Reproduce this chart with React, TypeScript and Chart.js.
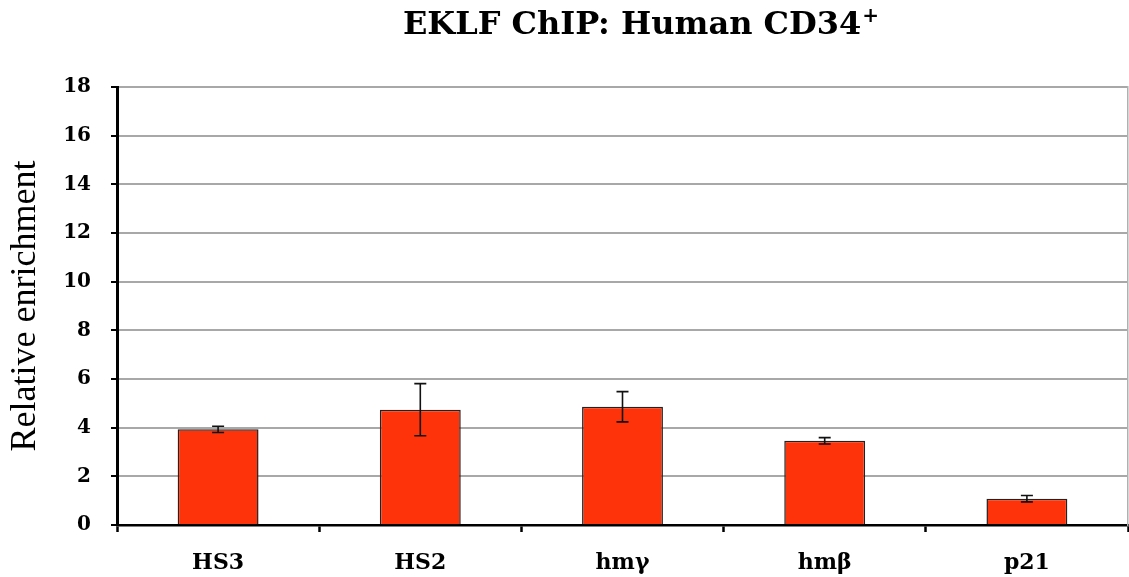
import React, { useEffect, useRef } from "react";
import { Chart, registerables } from "chart.js";

Chart.register(...registerables);

const categories = ["HS3", "HS2", "hmγ", "hmβ", "p21"];
const values = [3.93, 4.74, 4.86, 3.46, 1.08];
const errors = [0.13, 1.07, 0.62, 0.13, 0.13];
const yMin = 0;
const yMax = 18;
const yStep = 2;
const titleMain = "EKLF ChIP: Human CD34";
const titleSup = "+";
const yTitleText = "Relative enrichment";

const errorBarPlugin = {
  id: "errorBars",
  afterDatasetsDraw(chart: any) {
    const ctx = chart.ctx;
    const meta = chart.getDatasetMeta(0);
    const yScale = chart.scales.y;
    ctx.save();
    ctx.strokeStyle = "#111";
    ctx.lineWidth = 1.6;
    meta.data.forEach((el: any, i: number) => {
      const x = el.x;
      const top = yScale.getPixelForValue(values[i] + errors[i]);
      const bot = yScale.getPixelForValue(values[i] - errors[i]);
      const cap = 6;
      ctx.beginPath();
      ctx.moveTo(x, top);
      ctx.lineTo(x, bot);
      ctx.moveTo(x - cap, top);
      ctx.lineTo(x + cap, top);
      ctx.moveTo(x - cap, bot);
      ctx.lineTo(x + cap, bot);
      ctx.stroke();
    });
    ctx.restore();
  },
};

const titlePlugin = {
  id: "supTitle",
  afterDraw(chart: any) {
    const ctx = chart.ctx;
    ctx.save();
    ctx.fillStyle = "#000";
    ctx.textBaseline = "alphabetic";
    const mainFont = "bold 32px 'DejaVu Serif'";
    const supFont = "bold 20px 'DejaVu Serif'";
    ctx.font = mainFont;
    const wMain = ctx.measureText(titleMain).width;
    ctx.font = supFont;
    const wSup = ctx.measureText(titleSup).width;
    const total = wMain + wSup + 1;
    const cx = 641;
    const x0 = cx - total / 2;
    const baseline = 34;
    ctx.font = mainFont;
    ctx.textAlign = "left";
    ctx.fillText(titleMain, x0, baseline);
    ctx.font = supFont;
    ctx.fillText(titleSup, x0 + wMain + 1, baseline - 12);
    ctx.restore();
  },
};

export default function App() {
  const ref = useRef<HTMLCanvasElement | null>(null);
  useEffect(() => {
    document.body.style.margin = "0";
    const canvas = ref.current;
    if (!canvas) return;
    const chart = new Chart(canvas, {
      type: "bar",
      data: {
        labels: categories,
        datasets: [
          {
            data: values,
            backgroundColor: "rgb(255,51,10)",
            borderColor: "#222",
            borderWidth: 1.5,
            categoryPercentage: 1,
            barPercentage: 0.4,
          },
        ],
      },
      options: {
        animation: false,
        responsive: true,
        maintainAspectRatio: false,
        layout: { padding: { top: 87, right: 0, left: 0, bottom: 0 } },
        plugins: {
          legend: { display: false },
          tooltip: { enabled: false },
          title: { display: false },
        },
        scales: {
          x: {
            grid: {
              offset: true,
              drawOnChartArea: false,
              drawTicks: true,
              tickLength: 7,
              tickColor: "#000",
              tickWidth: 2.5,
            },
            border: { display: true, color: "#000", width: 2.5 },
            ticks: {
              color: "#000",
              padding: 18,
              font: { family: "DejaVu Serif", weight: "bold", size: 22 },
            },
            afterFit: (scale: any) => {
              scale.height = 52;
            },
          },
          y: {
            min: yMin,
            max: yMax,
            ticks: {
              stepSize: yStep,
              color: "#000",
              padding: 20,
              font: { family: "DejaVu Serif", weight: "bold", size: 20 },
            },
            grid: {
              color: "#a8a8a8",
              lineWidth: 2,
              drawTicks: true,
              tickLength: 6,
              tickColor: "#000",
              tickWidth: 2,
            },
            border: { display: true, color: "#000", width: 3 },
            title: {
              display: true,
              text: yTitleText,
              color: "#000",
              font: { family: "Liberation Serif", size: 36 },
              padding: { top: 4, bottom: 0 },
            },
            afterFit: (scale: any) => {
              scale.width = 117;
            },
          },
          y2: {
            position: "right",
            min: yMin,
            max: yMax,
            ticks: { display: false },
            grid: { drawOnChartArea: false, drawTicks: false },
            border: { display: true, color: "#b0b0b0", width: 1.5 },
            afterFit: (scale: any) => {
              scale.width = 1;
            },
          },
        },
      },
      plugins: [errorBarPlugin, titlePlugin],
    });
    return () => chart.destroy();
  }, []);
  return (
    <div style={{ width: 1129, height: 577, position: "relative", background: "#fff" }}>
      <canvas ref={ref} />
    </div>
  );
}
